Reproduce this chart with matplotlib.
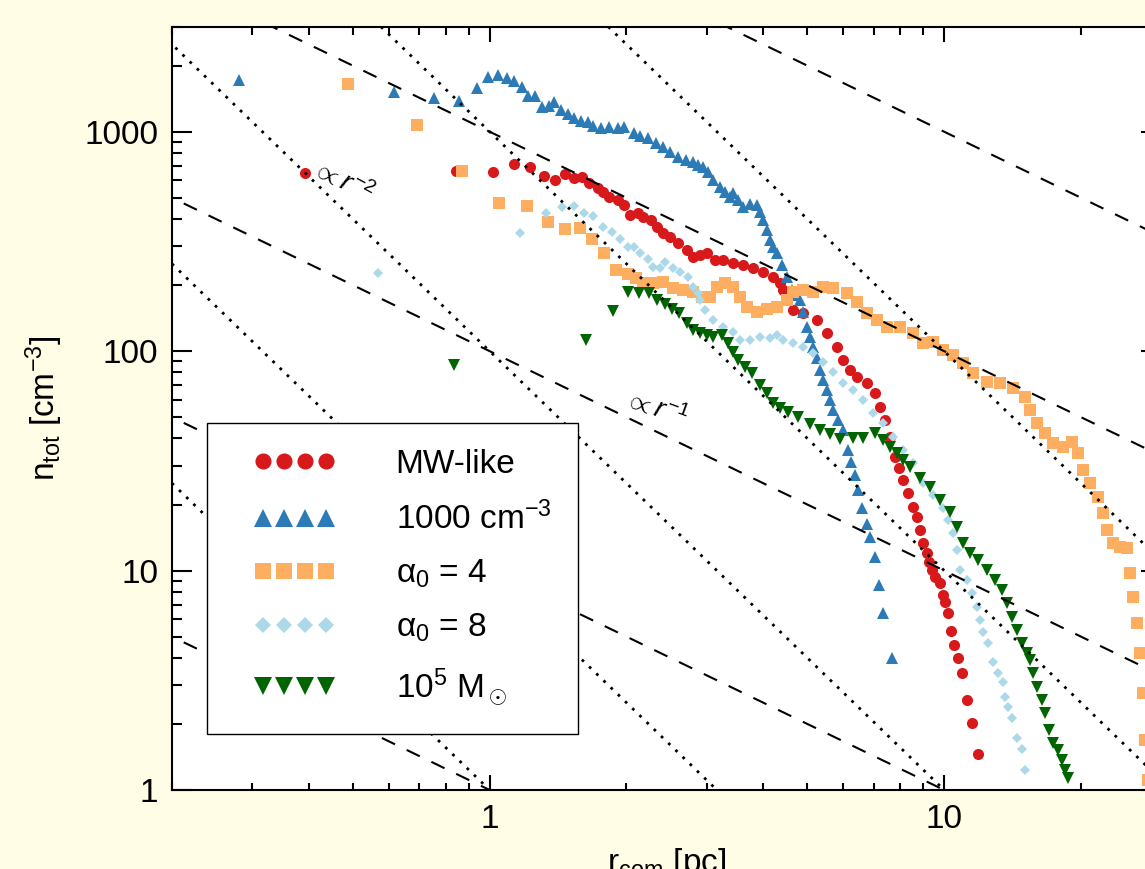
import numpy as np
import matplotlib
matplotlib.use('Agg')
import matplotlib.pyplot as plt
from matplotlib import ticker
from matplotlib.lines import Line2D
from matplotlib.legend_handler import HandlerLine2D

plt.rcParams['font.family'] = ['Liberation Sans', 'DejaVu Sans']
plt.rcParams['mathtext.fontset'] = 'custom'
plt.rcParams['mathtext.rm'] = 'Liberation Sans'
plt.rcParams['mathtext.it'] = 'Liberation Sans:italic'
plt.rcParams['mathtext.sf'] = 'Liberation Sans'
plt.rcParams['mathtext.bf'] = 'Liberation Sans:bold'

# Density profiles: r [pc], n_tot [cm^-3]
mw_r = [0.392, 0.842, 1.015, 1.129, 1.224, 1.314, 1.390, 1.461, 1.530, 1.593, 1.651, 1.727, 1.772, 1.826,
        1.911, 1.970, 2.041, 2.115, 2.180, 2.259, 2.340, 2.412, 2.499, 2.590, 2.724, 2.808, 2.909, 3.014,
        3.139, 3.268, 3.438, 3.615, 3.804, 4.001, 4.209, 4.361, 4.428, 4.518, 4.657, 4.898, 5.259, 5.533,
        5.820, 5.998, 6.215, 6.439, 6.772, 7.053, 7.233, 7.418, 7.607, 7.802, 7.963, 8.124, 8.332, 8.546,
        8.721, 8.857, 8.993, 9.176, 9.27, 9.41, 9.555, 9.80, 9.95, 10.05, 10.2, 10.36, 10.52, 10.74,
        10.95, 11.23, 11.52, 11.88]
mw_n = [647, 661, 654, 711, 689, 627, 601, 640, 614, 620, 583, 553, 530, 503,
        488, 463, 417, 425, 408, 395, 367, 345, 331, 310, 288, 268, 274, 280,
        260, 260, 252, 247, 239, 229, 217, 204, 190, 176, 154, 149, 138, 121,
        104, 91.0, 81.9, 76.1, 71.5, 64.4, 55.6, 48.5, 40.6, 32.9, 29.3, 25.8, 22.5, 19.5,
        17.5, 15.3, 13.3, 12.0, 10.9, 10.05, 9.34, 8.77, 7.73, 7.19, 6.40, 5.30, 4.58, 3.99,
        3.41, 2.57, 2.02, 1.46]

dense_r = [0.281, 0.615, 0.753, 0.855, 0.936, 0.990, 1.041, 1.090, 1.129, 1.176, 1.212, 1.256, 1.301, 1.348,
           1.382, 1.432, 1.484, 1.530, 1.585, 1.642, 1.692, 1.754, 1.826, 1.911, 1.970, 2.073, 2.147, 2.225,
           2.317, 2.412, 2.499, 2.590, 2.697, 2.808, 2.879, 2.953, 3.029, 3.107, 3.219, 3.302, 3.386, 3.438,
           3.526, 3.615, 3.746, 3.882, 3.940, 4.001, 4.083, 4.145, 4.209, 4.295, 4.405, 4.518, 4.634, 4.73,
           4.825, 4.898, 5.000, 5.076, 5.154, 5.259, 5.340, 5.422, 5.533, 5.617, 5.702, 5.848, 5.998, 6.152,
           6.246, 6.374, 6.471, 6.603, 6.772, 6.876, 7.053, 7.196, 7.343, 7.687]
dense_n = [1717, 1514, 1421, 1377, 1578, 1771, 1807, 1753, 1699, 1595, 1451, 1451, 1293, 1307,
           1363, 1253, 1201, 1152, 1116, 1105, 1060, 1037, 1048, 1037, 1048, 984, 954, 934,
           886, 850, 807, 765, 742, 726, 704, 689, 654, 601, 559, 530, 503, 525,
           488, 453, 467, 463, 430, 395, 356, 320, 298, 280, 247, 217, 190, 180,
           171, 151, 129, 116, 104, 92.9, 81.9, 73.8, 66.4, 59.8, 53.8, 48.5, 43.6, 35.4,
           31.2, 27.2, 23.3, 19.3, 16.3, 14.2, 11.5, 8.59, 6.40, 3.99]

a4_r = [0.487, 0.691, 0.868, 1.047, 1.206, 1.341, 1.461, 1.577, 1.676, 1.781, 1.892, 2.011, 2.094, 2.180,
        2.293, 2.412, 2.537, 2.669, 2.808, 2.939, 3.060, 3.170, 3.302, 3.438, 3.562, 3.690, 3.882, 4.083,
        4.295, 4.518, 4.657, 4.898, 5.154, 5.422, 5.702, 6.121, 6.439, 6.772, 7.123, 7.493, 8.004, 8.546,
        8.993, 9.458, 9.95, 10.47, 11.01, 11.58, 12.43, 13.28, 14.18, 15.07, 15.45, 16.01, 16.67, 17.36,
        18.26, 19.11, 19.71, 20.21, 20.94, 21.80, 22.36, 22.82, 23.52, 24.37, 25.25, 25.63, 26.03, 26.56,
        26.97, 27.38, 27.66, 28.08]
a4_n = [1646, 1071, 661, 472, 458, 387, 359, 363, 324, 280, 234, 224, 215, 204,
        204, 206, 194, 190, 186, 176, 176, 196, 204, 196, 176, 159, 151, 155,
        159, 171, 186, 190, 186, 196, 194, 184, 167, 149, 138, 129, 129, 121,
        109, 110, 101, 95.9, 88.2, 79.4, 72.2, 71.5, 67.8, 61.7, 53.8, 47.0, 42.3, 38.1,
        36.5, 38.5, 34.3, 28.7, 25.0, 21.6, 18.3, 15.3, 13.3, 12.8, 12.7, 9.74, 7.57, 5.77,
        4.21, 2.77, 1.69, 1.11]

a8_r = [0.567, 1.164, 1.328, 1.439, 1.530, 1.609, 1.692, 1.772, 1.854, 1.931, 2.011, 2.073, 2.147, 2.225,
        2.293, 2.376, 2.437, 2.537, 2.629, 2.737, 2.808, 2.866, 2.909, 2.984, 3.107, 3.268, 3.438, 3.562,
        3.746, 3.940, 4.145, 4.295, 4.428, 4.657, 4.898, 5.154, 5.422, 5.702, 5.998, 6.310, 6.637, 6.982,
        7.343, 7.724, 8.124, 8.546, 8.993, 9.458, 9.95, 10.2, 10.47, 10.68, 10.84, 11.23, 11.52, 11.82,
        12.00, 12.18, 12.50, 12.82, 13.15, 13.48, 13.62, 13.82, 14.11, 14.47, 14.84, 15.07]
a8_n = [227, 345, 425, 453, 458, 425, 412, 367, 348, 324, 298, 298, 280, 263,
        241, 239, 254, 239, 229, 217, 196, 184, 171, 154, 138, 129, 122, 112,
        112, 116, 115, 118, 112, 109, 104, 97.9, 89.1, 80.2, 71.5, 66.4, 59.8, 52.2,
        47.0, 40.6, 35.4, 30.9, 25.0, 22.1, 19.3, 17.0, 14.8, 12.4, 10.05, 9.05, 7.90, 6.82,
        5.95, 5.25, 4.67, 3.83, 3.41, 3.10, 2.65, 2.39, 2.13, 1.73, 1.54, 1.23]

m5_r = [0.834, 1.626, 1.864, 2.011, 2.136, 2.236, 2.340, 2.437, 2.524, 2.603, 2.724, 2.808, 2.909, 3.014,
        3.107, 3.251, 3.352, 3.438, 3.526, 3.653, 3.784, 3.940, 4.083, 4.209, 4.361, 4.541, 4.777, 5.076,
        5.340, 5.617, 5.906, 6.310, 6.637, 7.053, 7.343, 7.607, 7.882, 8.124, 8.420, 8.857, 9.316, 9.80,
        10.31, 10.68, 11.01, 11.41, 11.88, 12.43, 12.95, 13.41, 13.75, 14.11, 14.47, 14.84, 15.22, 15.45,
        15.69, 16.01, 16.42, 16.67, 17.01, 17.36, 17.81, 18.17, 18.45, 18.73]
m5_n = [86.4, 112, 152, 186, 184, 184, 171, 164, 155, 149, 134, 125, 121, 118,
        116, 118, 109, 99.0, 91.0, 84.6, 79.4, 70.0, 64.4, 58.0, 55.0, 52.7, 50.0, 46.5,
        43.6, 41.9, 39.7, 40.1, 40.1, 42.3, 39.3, 36.5, 34.3, 31.9, 29.6, 26.4, 24.0, 20.9,
        18.5, 15.8, 13.3, 12.0, 11.2, 10.05, 9.05, 8.15, 7.11, 6.14, 5.36, 4.67, 4.21, 3.91,
        3.41, 2.95, 2.57, 2.24, 1.88, 1.64, 1.52, 1.37, 1.23, 1.13]

labels = ['MW-like', '1000 cm$^{-3}$', 'α$_0$ = 4', 'α$_0$ = 8', '10$^5$ M$_\\odot$']
colors = ['#d7191c', '#2c7bb6', '#fdae61', '#abd9e9', '#006400']

# power-law guide lines, n = A r^-1 (dashed) and n = A r^-2 (dotted)
norms = [1, 10, 100, 1000, 10000]

fig = plt.figure(figsize=(11.45, 8.69), dpi=100, facecolor='#fffde5')
ax = fig.add_axes([0.1502, 0.0909, 0.8638, 0.8780])
ax.set_xscale('log')
ax.set_yscale('log')

ax.plot(mw_r, mw_n, ls='none', marker='o', ms=8, mew=0, color=colors[0], label=labels[0])
ax.plot(dense_r, dense_n, ls='none', marker='^', ms=8.6, mew=0, color=colors[1], label=labels[1])
ax.plot(a4_r, a4_n, ls='none', marker='s', ms=8, mew=0, color=colors[2], label=labels[2])
ax.plot(a8_r, a8_n, ls='none', marker='D', ms=5.6, mew=0, color=colors[3], label=labels[3])
ax.plot(m5_r, m5_n, ls='none', marker='v', ms=8.6, mew=0, color=colors[4], label=labels[4])

rr = np.array([0.1, 100.0])
for a in norms:
    ax.plot(rr, a / rr, color='k', lw=1.5, dashes=(7, 6.2), zorder=5)
    ax.plot(rr, a / rr**2, color='k', lw=2.0, dashes=(1, 2.6), zorder=5)

ax.text(0.475, 595, r'$\propto r^{-2}$', rotation=-28, fontsize=20, ha='center', va='center', zorder=6)
ax.text(2.33, 55, r'$\propto r^{-1}$', rotation=-20, fontsize=20, ha='center', va='center', zorder=6)

ax.set_xlim(0.2, 30)
ax.set_ylim(1, 3000)

fmt = ticker.FuncFormatter(lambda v, p: f'{v:g}')
ax.xaxis.set_major_formatter(fmt)
ax.yaxis.set_major_formatter(fmt)
ax.xaxis.set_minor_formatter(ticker.NullFormatter())
ax.yaxis.set_minor_formatter(ticker.NullFormatter())
ax.tick_params(which='both', direction='in', top=True, right=True, width=1.5, labelsize=24, pad=10)
ax.tick_params(axis='x', which='major', length=10.8)
ax.tick_params(axis='x', which='minor', length=5.4)
ax.tick_params(axis='y', which='major', length=14.4)
ax.tick_params(axis='y', which='minor', length=7.2)
for s in ax.spines.values():
    s.set_linewidth(1.5)

ax.set_xlabel(r'r$_{\rm com}$ [pc]', fontsize=24, labelpad=8)
ax.set_ylabel(r'n$_{\rm tot}$ [cm$^{-3}$]', fontsize=24, labelpad=14)

leg = ax.legend(loc='lower left', bbox_to_anchor=(0.0354, 0.0734), borderaxespad=0, fontsize=24,
                numpoints=4, markerscale=1.45, handlelength=3.67, handletextpad=1.2, borderpad=0.79,
                labelspacing=0.65, fancybox=False, edgecolor='k', framealpha=1,
                handler_map={Line2D: HandlerLine2D(marker_pad=0.88, numpoints=4)})
leg.get_frame().set_linewidth(1.0)
leg.set_zorder(10)

fig.savefig('out.png', dpi=100, facecolor=fig.get_facecolor())
